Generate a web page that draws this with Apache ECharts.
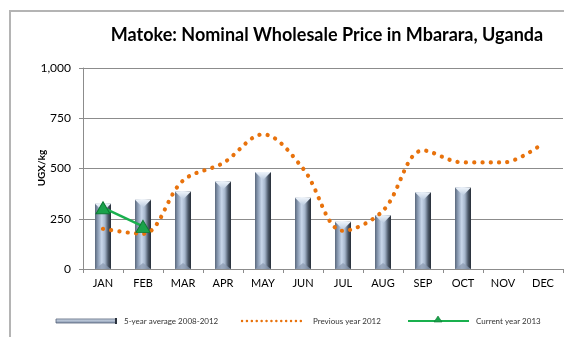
<!DOCTYPE html>
<html>
<head>
<meta charset="utf-8">
<script src="https://cdn.jsdelivr.net/npm/echarts@6/dist/echarts.min.js"></script>
<style>
  html, body { margin: 0; padding: 0; background: #fff; }
  #chart { width: 564px; height: 337px; }
</style>
</head>
<body>
<div id="chart"></div>
<script>
// Months on the category axis
const months = ['JAN', 'FEB', 'MAR', 'APR', 'MAY', 'JUN', 'JUL', 'AUG', 'SEP', 'OCT', 'NOV', 'DEC'];
// 5-year average 2008-2012 (UGX/kg)
const avg5yr = [325, 345, 385, 435, 482, 355, 235, 268, 382, 405, null, null];
// Previous year 2012 (UGX/kg)
const prev2012 = [200, 175, 440, 527, 670, 500, 190, 290, 590, 530, 530, 625];
// Current year 2013 (UGX/kg)
const cur2013 = [305, 212, null, null, null, null, null, null, null, null, null, null];
// Value-axis ticks
const yTicks = { min: 0, max: 1000, step: 250 };

const FONT = 'Lato, "Open Sans", sans-serif';

// Bevelled steel-blue column drawn through the axis coordinate system
function renderBevelBar(params, api) {
  const v = api.value(1);
  if (v == null || isNaN(v)) return null;
  const top = api.coord([api.value(0), v]);
  const base = api.coord([api.value(0), 0]);
  const w = 16, hw = w / 2;
  const cx = top[0];
  const ty = top[1], by = base[1];
  const bodyFill = new echarts.graphic.LinearGradient(0, 0, 1, 0, [
    { offset: 0, color: '#5a687c' },
    { offset: 0.18, color: '#8a9bb3' },
    { offset: 0.42, color: '#c9d7ea' },
    { offset: 0.62, color: '#a5b5cb' },
    { offset: 0.82, color: '#4d596a' },
    { offset: 1, color: '#262d37' }
  ]);
  const capFill = new echarts.graphic.LinearGradient(0, 0, 0, 1, [
    { offset: 0, color: '#eef4fb' },
    { offset: 1, color: '#b9c9de' }
  ]);
  return {
    type: 'group',
    children: [
      { type: 'rect', shape: { x: cx - hw, y: ty, width: w, height: by - ty },
        style: { fill: bodyFill } },
      { type: 'polygon', shape: { points: [[cx - hw, ty], [cx + hw, ty], [cx, ty + 8]] },
        style: { fill: capFill } },
      { type: 'polygon', shape: { points: [[cx - hw, by], [cx + hw, by], [cx, by - 6]] },
        style: { fill: 'rgba(140,155,178,0.75)' } }
    ]
  };
}

const chart = echarts.init(document.getElementById('chart'), null, { renderer: 'canvas' });

const legendY = 321;
const option = {
  animation: false,
  textStyle: { fontFamily: FONT },
  title: {
    text: 'Matoke: Nominal Wholesale Price in Mbarara, Uganda',
    left: 322, top: 21, textAlign: 'center',
    textStyle: { fontFamily: FONT, fontSize: 18, fontWeight: 'bold', color: '#000' }
  },
  grid: { left: 83, right: 1, top: 68, bottom: 68, containLabel: false },
  xAxis: {
    type: 'category',
    data: months,
    boundaryGap: true,
    axisLine: { lineStyle: { color: '#8c8c8c', width: 1 } },
    axisTick: { show: true, length: 4, lineStyle: { color: '#8c8c8c' } },
    axisLabel: { color: '#000', fontSize: 11, margin: 9, fontFamily: FONT },
    splitLine: { show: false }
  },
  yAxis: {
    type: 'value',
    min: yTicks.min, max: yTicks.max, interval: yTicks.step,
    axisLine: { show: true, lineStyle: { color: '#8c8c8c', width: 1 } },
    axisTick: { show: true, length: 4, lineStyle: { color: '#8c8c8c' } },
    axisLabel: {
      color: '#000', fontSize: 12, margin: 12, fontFamily: FONT,
      formatter: v => v.toLocaleString('en-US')
    },
    splitLine: { show: true, lineStyle: { color: '#8c8c8c', width: 1.2 } }
  },
  series: [
    {
      name: '5-year average 2008-2012',
      type: 'custom',
      renderItem: renderBevelBar,
      data: avg5yr.map((v, i) => [i, v]),
      z: 2
    },
    {
      name: 'Previous year 2012',
      type: 'line',
      data: prev2012,
      smooth: 0.35,
      symbol: 'none',
      lineStyle: { color: '#e8720c', width: 4.2, type: [0.1, 8.2], cap: 'round' },
      z: 3
    },
    {
      name: 'Current year 2013',
      type: 'line',
      data: cur2013,
      symbol: 'triangle',
      symbolSize: [14, 12],
      itemStyle: { color: '#1aa24b', borderColor: '#0c7a33', borderWidth: 1 },
      lineStyle: { color: '#19b04e', width: 2.5 },
      z: 4
    }
  ],
  graphic: [
    // chart-area frame
    { type: 'rect', shape: { x: 10, y: 11, width: 700, height: 500 },
      style: { fill: null, stroke: '#b4b4b4', lineWidth: 2 }, silent: true, z: 0 },
    // value-axis title
    { type: 'text', x: 42, y: 168, rotation: Math.PI / 2,
      style: { text: 'UGX/kg', fontSize: 10, fontWeight: 'bold', fontFamily: FONT, fill: '#000',
               align: 'center', verticalAlign: 'middle' }, z: 10 },
    // legend: 5-year average
    { type: 'rect', shape: { x: 56, y: legendY - 2, width: 60, height: 4 },
      style: {
        fill: new echarts.graphic.LinearGradient(0, 0, 0, 1, [
          { offset: 0, color: '#dbe5f2' }, { offset: 1, color: '#7f8fa8' }
        ]),
        stroke: '#56637a', lineWidth: 0.8
      }, z: 10 },
    { type: 'rect', shape: { x: 115, y: legendY - 3, width: 2, height: 6 },
      style: { fill: '#2b323d' }, z: 10 },
    { type: 'text', x: 124, y: legendY,
      style: { text: '5-year average 2008-2012', fontSize: 8, fontFamily: FONT, fill: '#333',
               verticalAlign: 'middle' }, z: 10 },
    // legend: previous year
    { type: 'line', shape: { x1: 242, y1: legendY, x2: 301, y2: legendY },
      style: { stroke: '#e8720c', lineWidth: 2.4, lineDash: [0.1, 4.8], lineCap: 'round' }, z: 10 },
    { type: 'text', x: 313, y: legendY,
      style: { text: 'Previous year 2012', fontSize: 8, fontFamily: FONT, fill: '#333',
               verticalAlign: 'middle' }, z: 10 },
    // legend: current year
    { type: 'line', shape: { x1: 408, y1: legendY, x2: 469, y2: legendY },
      style: { stroke: '#19b04e', lineWidth: 2.2 }, z: 10 },
    { type: 'polygon', shape: { points: [[438, legendY - 5], [442, legendY + 1], [434, legendY + 1]] },
      style: { fill: '#1aa24b', stroke: '#0c7a33', lineWidth: 0.6 }, z: 11 },
    { type: 'text', x: 476, y: legendY,
      style: { text: 'Current year 2013', fontSize: 8, fontFamily: FONT, fill: '#333',
               verticalAlign: 'middle' }, z: 10 }
  ]
};

chart.setOption(option);
</script>
</body>
</html>
